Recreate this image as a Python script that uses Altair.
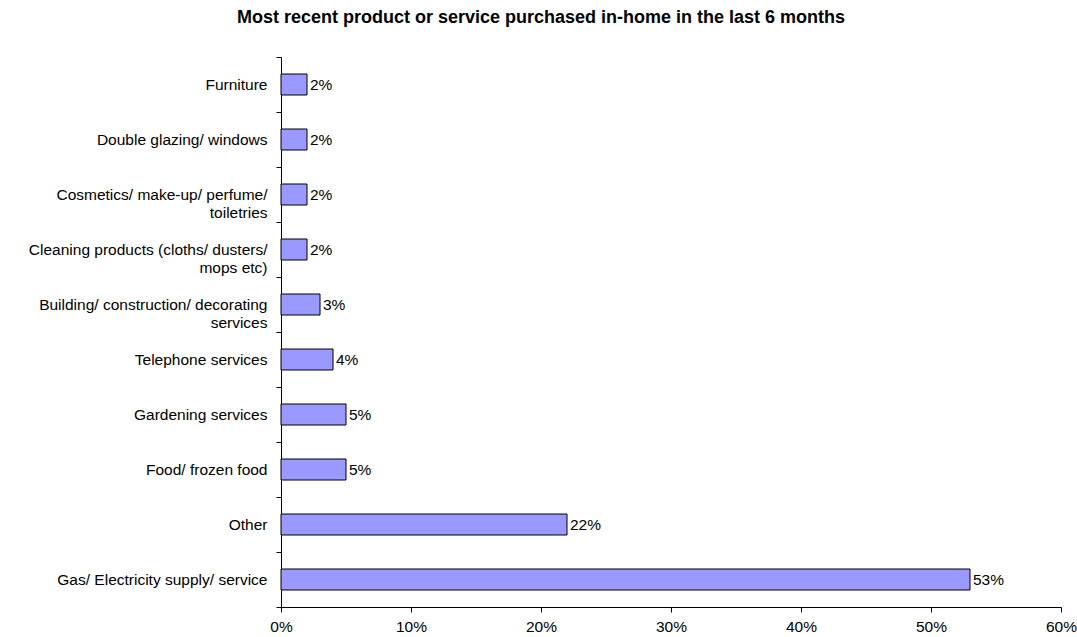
import altair as alt
import pandas as pd

categories = [
    "Furniture",
    "Double glazing/ windows",
    "Cosmetics/ make-up/ perfume/\ntoiletries",
    "Cleaning products (cloths/ dusters/\nmops etc)",
    "Building/ construction/ decorating\nservices",
    "Telephone services",
    "Gardening services",
    "Food/ frozen food",
    "Other",
    "Gas/ Electricity supply/ service",
]
values = [2, 2, 2, 2, 3, 4, 5, 5, 22, 53]
x_ticks = [0, 10, 20, 30, 40, 50, 60]

df = pd.DataFrame({"category": categories, "value": values})
df["label"] = [f"{v}%" for v in values]

FONT = "Liberation Sans"
FS = 15.5

y_enc = alt.Y(
    "category:N",
    sort=categories,
    title=None,
    scale=alt.Scale(paddingInner=0, paddingOuter=0),
    axis=alt.Axis(
        tickBand="extent",
        labelExpr="split(datum.label, '\\n')",
        labelLineHeight=18,
        labelFont=FONT,
        labelFontSize=FS,
        labelColor="black",
        labelPadding=9,
        tickSize=5,
        tickColor="black",
        domainColor="black",
        grid=False,
        labelLimit=400,
    ),
)

x_enc = alt.X(
    "value:Q",
    title=None,
    scale=alt.Scale(domain=[0, 60], nice=False),
    axis=alt.Axis(
        values=x_ticks,
        labelExpr="datum.value + '%'",
        labelFont=FONT,
        labelFontSize=FS,
        labelColor="black",
        labelPadding=7,
        labelFlush=False,
        tickSize=5,
        tickColor="black",
        domainColor="black",
        grid=False,
    ),
)

bars = alt.Chart(df).mark_bar(
    size=21, color="#9999FF", stroke="black", strokeWidth=1
).encode(x=x_enc, y=y_enc)

texts = alt.Chart(df).mark_text(
    align="left", baseline="middle", dx=3, font=FONT, fontSize=FS, color="black"
).encode(x="value:Q", y=alt.Y("category:N", sort=categories), text="label:N")

chart = (
    alt.layer(bars, texts)
    .properties(
        width=780,
        height=550,
        view=alt.ViewBackground(stroke="transparent", strokeWidth=0),
        title=alt.TitleParams(
            "Most recent product or service purchased in-home in the last 6 months",
            font=FONT,
            fontSize=18,
            fontWeight="bold",
            color="black",
            anchor="middle",
            dx=-130,
            offset=23,
        ),
        autosize=alt.AutoSizeParams(type="none"),
        padding={"left": 281, "top": 57, "right": 16, "bottom": 30},
    )
    .configure_view(strokeWidth=0, stroke="transparent")
    .configure(background="white")
)

chart.save("out.html", embed_options={"renderer": "svg", "actions": False})
